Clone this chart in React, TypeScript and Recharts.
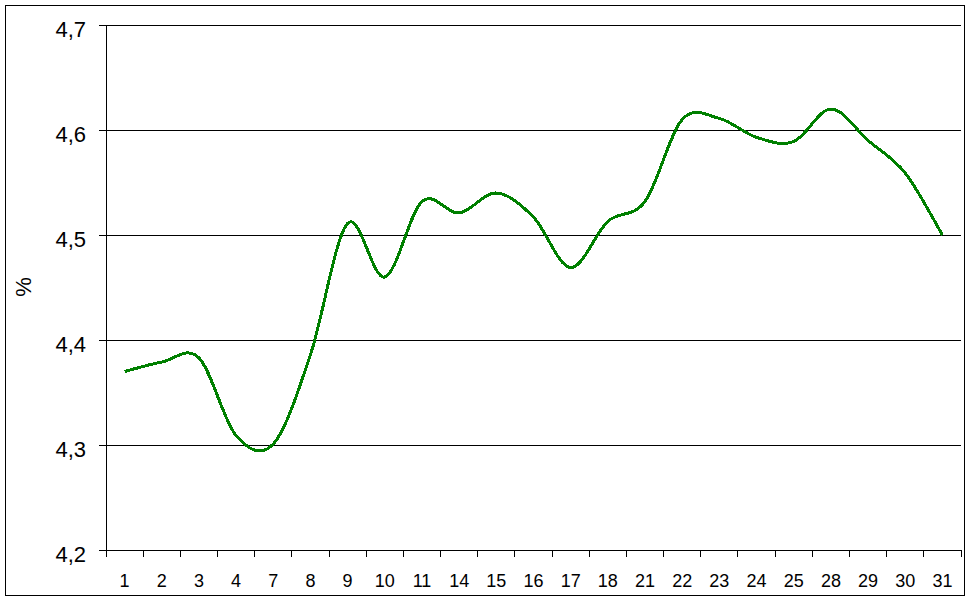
import { CartesianGrid, Line, LineChart, XAxis, YAxis } from 'recharts'

// Trading days of the month and the rate on each (%).
const days = ['1', '2', '3', '4', '7', '8', '9', '10', '11', '14', '15', '16', '17', '18', '21', '22', '23', '24', '25', '28', '29', '30', '31']
const rates = [
  4.37, 4.379, 4.383, 4.309, 4.301, 4.386, 4.511, 4.46, 4.532, 4.521, 4.54, 4.517, 4.469, 4.513, 4.532, 4.61, 4.611,
  4.593, 4.589, 4.62, 4.59, 4.559, 4.5,
]
const yTicks = [4.2, 4.3, 4.4, 4.5, 4.6, 4.7]

const data = days.map((day, i) => ({ day, rate: rates[i] }))

const FONT = '"Liberation Sans", Arial, sans-serif'
const PLOT_LEFT = 106
const PLOT_RIGHT = 961
const BAND = (PLOT_RIGHT - PLOT_LEFT) / days.length

const comma = (v: number) => v.toFixed(1).replace('.', ',')

// Excel-style smoothed line (uniform Catmull-Rom through every point).
const excelSmooth = (context: any) => {
  let xs: number[] = []
  let ys: number[] = []
  return {
    areaStart() {},
    areaEnd() {},
    lineStart() {
      xs = []
      ys = []
    },
    point(x: number, y: number) {
      xs.push(+x)
      ys.push(+y)
    },
    lineEnd() {
      const n = xs.length
      if (!n) return
      context.moveTo(xs[0], ys[0])
      for (let i = 0; i < n - 1; i++) {
        const a = Math.max(i - 1, 0)
        const d = Math.min(i + 2, n - 1)
        context.bezierCurveTo(
          xs[i] + (xs[i + 1] - xs[a]) / 6,
          ys[i] + (ys[i + 1] - ys[a]) / 6,
          xs[i + 1] - (xs[d] - xs[i]) / 6,
          ys[i + 1] - (ys[d] - ys[i]) / 6,
          xs[i + 1],
          ys[i + 1],
        )
      }
    },
  }
}

function DayTick({ x, y, payload, index }: any) {
  const last = index === days.length - 1
  return (
    <g>
      <line x1={x - BAND / 2} x2={x - BAND / 2} y1={y} y2={y + 7} stroke="#000" />
      {last && <line x1={x + BAND / 2} x2={x + BAND / 2} y1={y} y2={y + 7} stroke="#000" />}
      <text x={x} y={y + 37} textAnchor="middle" fontSize={18} fontFamily={FONT} fill="#000">
        {payload.value}
      </text>
    </g>
  )
}

function RateTick({ x, y, payload }: any) {
  return (
    <g>
      <line x1={x - 7} x2={x} y1={y} y2={y} stroke="#000" />
      <text x={x - 20} y={y + 11.5} textAnchor="end" fontSize={22} fontFamily={FONT} fill="#000">
        {comma(payload.value)}
      </text>
    </g>
  )
}

export default function App() {
  return (
    <div style={{ position: 'relative', width: 970, height: 602, background: '#fff', shapeRendering: 'crispEdges' }}>
      <style>{'body{margin:0}'}</style>
      <div
        style={{
          position: 'absolute',
          left: 5,
          top: 5,
          width: 958,
          height: 589,
          border: '1px solid #000',
        }}
      />
      <span
        style={{
          position: 'absolute',
          left: 24,
          top: 287,
          transform: 'translate(-50%, -50%) rotate(-90deg)',
          fontFamily: FONT,
          fontSize: 22,
          lineHeight: 1,
        }}
      >
        %
      </span>
      <LineChart
        width={970}
        height={602}
        data={data}
        margin={{ top: 25, right: 970 - PLOT_RIGHT, bottom: 0, left: PLOT_LEFT - 80 }}
        style={{ position: 'absolute', left: 0, top: 0 }}
      >
        <CartesianGrid horizontal vertical={false} stroke="#000" strokeOpacity={1} />
        <XAxis
          dataKey="day"
          interval={0}
          height={52}
          padding={{ left: BAND / 2, right: BAND / 2 }}
          tickSize={0}
          tickMargin={0}
          tickLine={false}
          axisLine={{ stroke: '#000' }}
          tick={<DayTick />}
        />
        <YAxis
          domain={[4.2, 4.7]}
          ticks={yTicks}
          width={80}
          tickSize={0}
          tickMargin={0}
          tickLine={false}
          axisLine={{ stroke: '#000' }}
          tick={<RateTick />}
        />
        <YAxis
          yAxisId="edge"
          orientation="right"
          domain={[4.2, 4.7]}
          width={0}
          tick={false}
          tickLine={false}
          axisLine={{ stroke: '#000' }}
        />
        <Line
          dataKey="rate"
          type={excelSmooth as any}
          stroke="#008000"
          strokeWidth={3}
          dot={false}
          activeDot={false}
          isAnimationActive={false}
        />
      </LineChart>
    </div>
  )
}
